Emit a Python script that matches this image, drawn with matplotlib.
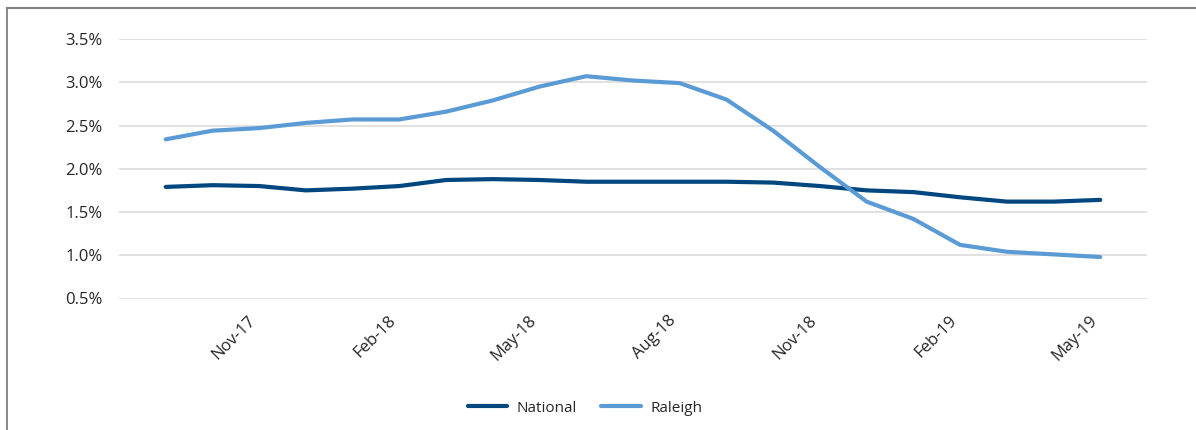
import matplotlib
matplotlib.use("Agg")
import matplotlib.pyplot as plt
from matplotlib.lines import Line2D
from matplotlib.ticker import FuncFormatter

# Monthly series, Sep-17 through May-19
months = ["Sep-17", "Oct-17", "Nov-17", "Dec-17", "Jan-18", "Feb-18", "Mar-18",
          "Apr-18", "May-18", "Jun-18", "Jul-18", "Aug-18", "Sep-18", "Oct-18",
          "Nov-18", "Dec-18", "Jan-19", "Feb-19", "Mar-19", "Apr-19", "May-19"]
national = [1.79, 1.81, 1.80, 1.75, 1.77, 1.80, 1.87, 1.88, 1.87, 1.85, 1.85,
            1.85, 1.85, 1.84, 1.80, 1.75, 1.73, 1.67, 1.62, 1.62, 1.64]
raleigh = [2.34, 2.44, 2.47, 2.53, 2.57, 2.57, 2.66, 2.79, 2.95, 3.07, 3.02,
           2.99, 2.80, 2.44, 2.02, 1.62, 1.42, 1.12, 1.04, 1.01, 0.98]
shown_ticks = ["Nov-17", "Feb-18", "May-18", "Aug-18", "Nov-18", "Feb-19", "May-19"]
y_ticks = [0.5, 1.0, 1.5, 2.0, 2.5, 3.0, 3.5]

plt.rcParams["font.family"] = ["Open Sans", "DejaVu Sans"]
text_color = "#262626"

W, H = 1196, 430
fig = plt.figure(figsize=(W / 100, H / 100), dpi=100)
ax = fig.add_axes([119 / W, 1 - 298.5 / H, (1147 - 119) / W, (298.5 - 39) / H])

x = list(range(len(months)))
ax.plot(x, national, color="#00467F", lw=3.0, label="National",
        solid_joinstyle="round", solid_capstyle="round", zorder=3)
ax.plot(x, raleigh, color="#5B9BD5", lw=3.0, label="Raleigh",
        solid_joinstyle="round", solid_capstyle="round", zorder=3)

ax.set_xlim(-1, 21)
ax.set_ylim(0.5, 3.5)
ax.set_yticks(y_ticks)
ax.yaxis.set_major_formatter(FuncFormatter(lambda v, _: f"{v:.1f}%"))
ax.grid(axis="y", color="#D9D9D9", lw=1.1)
ax.set_axisbelow(True)

tick_pos = [months.index(m) for m in shown_ticks]
ax.set_xticks(tick_pos)
ax.set_xticklabels(shown_ticks, rotation=45, ha="right", va="top")

for s in ax.spines.values():
    s.set_visible(False)
ax.tick_params(axis="both", length=0, labelsize=12, colors=text_color)
ax.tick_params(axis="y", pad=12)
ax.tick_params(axis="x", pad=10)

fig.legend(loc="center", bbox_to_anchor=(585 / W, 1 - 408 / H), ncol=2,
           frameon=False, fontsize=11, handlelength=2.6, columnspacing=1.6,
           handletextpad=0.6, labelcolor=text_color)

# Outer frame, open on the right and bottom
fig.add_artist(Line2D([7 / W, 7 / W], [0, 1 - 7.5 / H], color="#7F7F7F", lw=1.3,
                      transform=fig.transFigure))
fig.add_artist(Line2D([7 / W, 1], [1 - 7.5 / H, 1 - 7.5 / H], color="#7F7F7F", lw=1.5,
                      transform=fig.transFigure))

fig.savefig("out.png", dpi=100)
